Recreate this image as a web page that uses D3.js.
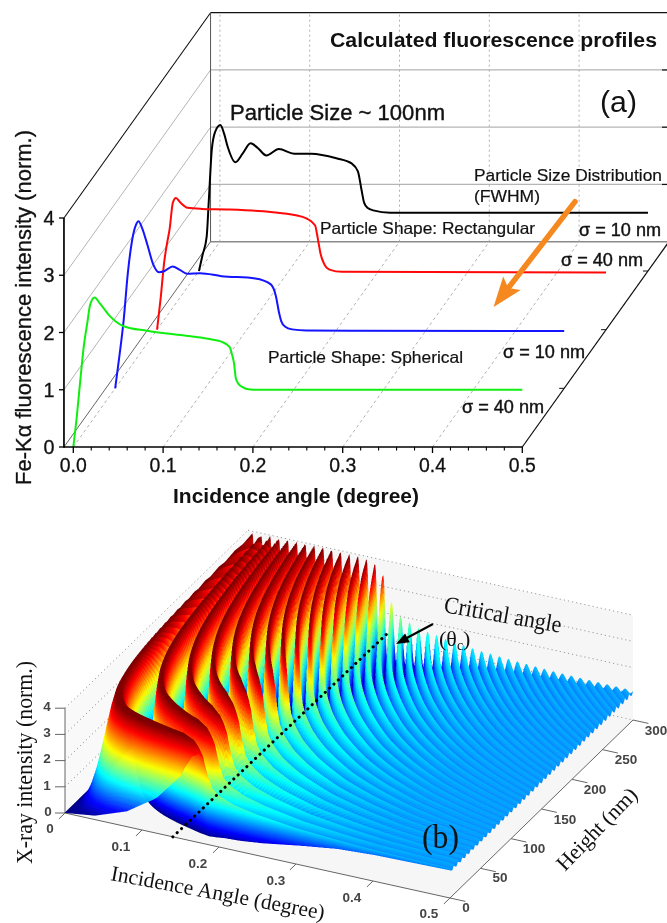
<!DOCTYPE html>
<html><head><meta charset="utf-8">
<script src="https://cdn.jsdelivr.net/npm/d3@7/dist/d3.min.js"></script>
<style>
html,body{margin:0;padding:0;background:#fff;width:667px;height:923px;overflow:hidden}
.layer{position:absolute;left:0;top:0;filter:blur(0.5px)}
canvas.layer{width:667px;height:923px}
text{font-family:"Liberation Sans",Arial,sans-serif;fill:#111}
.serif{font-family:"Liberation Serif","Times New Roman",serif}
</style></head><body>
<svg id="under" class="layer" width="667" height="923"></svg>
<canvas id="surface" class="layer" width="1334" height="1846"></canvas>
<svg id="over" class="layer" width="667" height="923"></svg>
<script>
// ---------- panel (a): profiles (angle in degree, intensity in norm. units)
const greenAngle=[0,.004,.008,.012,.0155,.0187,.0236,.03,.04,.056,.082,.122,.15,.165,.174,.177,.179,.181,.184,.188,.195,.207,.5];
const greenValue=[0,.55,1.2,1.8,2.16,2.48,2.61,2.5,2.3,2.11,2.03,1.95,1.89,1.84,1.75,1.6,1.46,1.2,1.1,1.05,1.01,1,1];
const blueAngle=[0,.005,.0095,.014,.019,.023,.026,.03,.036,.042,.0488,.055,.0639,.072,.08,.0947,.1185,.156,.173,.179,.1825,.185,.189,.197,.213,.5];
const blueValue=[0,.6,1.2,2,2.6,2.85,2.92,2.8,2.5,2.18,2.03,2.05,2.13,2.07,2,2.01,1.96,1.92,1.82,1.61,1.32,1.17,1.08,1.03,1.01,1];
const redAngle=[0,.004,.008,.011,.014,.0176,.021,.026,.034,.05,.077,.129,.162,.176,.178,.18,.182,.186,.192,.206,.5];
const redValue=[0,.55,1.19,1.5,1.76,2.22,2.3,2.22,2.13,2.11,2.1,2.05,1.97,1.82,1.68,1.5,1.33,1.15,1.05,1.01,1];
const blackAngle=[0,.004,.0086,.011,.0143,.018,.0238,.028,.032,.0406,.049,.0575,.0655,.075,.089,.106,.125,.153,.17,.177,.181,.184,.188,.194,.213,.5];
const blackValue=[0,.28,.6,1.24,2.12,2.43,2.55,2.4,2.17,1.9,2.06,2.23,2.15,2.02,2.13,2.05,2.05,1.97,1.88,1.74,1.42,1.19,1.1,1.06,1.02,1.02];
const profileColors=["#10ee10","#1414ff","#ff0808","#000000"];
const profileDepths=[0,1,2,3];
const xTicksA=[0,.1,.2,.3,.4,.5];
const xMinorA=[.02,.04,.06,.08,.12,.14,.16,.18,.22,.24,.26,.28,.32,.34,.36,.38,.42,.44,.46,.48];
const yTicksA=[0,1,2,3,4];
const arrowA=[[.5587,0,4.285],[.468,0,2.445]];

// ---------- panel (b): surface described by tables
// fin crest positions along the back edge (Height = 300 nm)
const finTips=[.0058,.0175,.0292,.0408,.0525,.0642,.0758,.0875,.0992,.1108,.1225,.1342,.1458,.1575,.1692,.1808,.1925,.2042,.2158,.2275,.2392,.2508,.2625,.2742,.2858,.2975,.3092,.3208,.3325,.3442,.3558,.3675,.3792,.3908,.4025,.4142,.4258,.4375,.4492,.4608,.4725,.4842,.4958,.5075];
// crest / valley intensity against angle
const envAngle=[0,.05,.1,.15,.165,.172,.178,.184,.19,.2,.22,.25,.3,.35,.4,.5];
const crestValue=[3.92,3.96,3.98,3.92,3.8,3.6,3.35,2.7,2.2,1.95,1.72,1.55,1.36,1.26,1.18,1.12];
const valleyValue=[0,0,0,0,.01,.03,.05,.08,.1,.15,.2,.32,.58,.8,.9,.98];
// sideways drift of the fins at low angle, in tip-angle units
const shiftAngle=[0,.04,.08,.12,.15,.17,.18,.5];
const shiftValue=[0,.0007,.0014,.0023,.0033,.0047,.00583,.00583];
// height across one fin, crest to crest
const finShape=[1,.96,.85,.69,.5,.31,.15,.04,0,.04,.15,.31,.5,.69,.85,.96,1];
const jetStops=[0,.125,.375,.625,.875,1];
const jetColors=["#00007f","#0000ff","#00ffff","#ffff00","#ff0000","#7f0000"];
const xTicksB=[0,.1,.2,.3,.4,.5];
const hTicksB=[0,50,100,150,200,250,300];
const zTicksB=[0,1,2,3,4];
const criticalLine=[[.14,0,0],[.18,300,1.2]];

const under=d3.select("#under"),over=d3.select("#over");
// ---- helpers
function put(svg,str,x,y,size,len,opt={}){
  const t=svg.append("text").attr("x",x).attr("y",y).attr("font-size",size).text(str);
  if(len)t.attr("textLength",len).attr("lengthAdjust","spacingAndGlyphs");
  if(opt.weight)t.attr("font-weight",opt.weight);
  if(opt.cls)t.attr("class",opt.cls);
  if(opt.anchor)t.attr("text-anchor",opt.anchor);
  if(opt.rot!==undefined)t.attr("transform",`rotate(${opt.rot} ${x} ${y})`);
  if(opt.fill)t.style("fill",opt.fill);
  if(opt.thick)t.style("stroke","#111").style("stroke-width",opt.thick);
  return t;
}
const seg=(svg,a,b,col,w,dash)=>{const l=svg.append("line").attr("x1",a[0]).attr("y1",a[1]).attr("x2",b[0]).attr("y2",b[1]).attr("stroke",col).attr("stroke-width",w);if(dash)l.attr("stroke-dasharray",dash);return l;};

// ---- panel (a)
const xA=d3.scaleLinear([0,.5],[73.3,522.3]);
const yA=d3.scaleLinear([0,4],[447,218]);
const dXA=d3.scaleLinear([0,3.5],[0,146.6]);
const dYA=d3.scaleLinear([0,3.5],[0,-205.3]);
const leftA=xA(-.0104),depthA=3.5;
const pA=(a,d,v)=>[xA(a)+dXA(d),yA(v)+dYA(d)];
const backL=dXA(depthA)+leftA;
// gray wall lines
yTicksA.forEach(v=>{ if(v>0&&v<4)seg(under,[leftA,yA(v)],[backL,yA(v)+dYA(depthA)],"#b5b5b5",1);});
yTicksA.forEach(v=>{ if(v<4)seg(under,[backL,yA(v)+dYA(depthA)],[667,yA(v)+dYA(depthA)],v==0?"#8a8a8a":"#b5b5b5",v==0?1.4:1.2);});
xTicksA.forEach(a=>{
  seg(under,pA(a,0,0),pA(a,depthA,0),"#a8a8a8",.9,"3 3");
  seg(under,pA(a,depthA,0),pA(a,depthA,4),"#a8a8a8",.9,"2 3");
});
seg(under,[leftA,yA(0)],[backL,yA(0)+dYA(depthA)],"#555",.9);
seg(under,[leftA,yA(4)],[backL,yA(4)+dYA(depthA)],"#111",1.1);
seg(under,[backL,yA(0)+dYA(depthA)],[backL,yA(4)+dYA(depthA)],"#555",1);
seg(under,[backL,yA(4)+dYA(depthA)],[667,yA(4)+dYA(depthA)],"#111",1.2);
seg(under,[xA(.5),yA(0)],[xA(.5)+dXA(depthA),yA(0)+dYA(depthA)],"#111",1.2);
[1,2,3].forEach(d=>seg(under,pA(.5,d,0),[xA(.5)+dXA(d)-5,yA(0)+dYA(d)],"#111",1));
[1,2,3].forEach(v=>seg(under,[662,yA(v)+dYA(depthA)],[667,yA(v)+dYA(depthA)],"#111",1.2));
// curves
const lineA=d3.line().curve(d3.curveMonotoneX);
[[blackAngle,blackValue],[redAngle,redValue],[blueAngle,blueValue],[greenAngle,greenValue]].forEach(([xs,ys],k)=>{
  const idx=3-k,d=profileDepths[idx];
  under.append("path").attr("fill","none").attr("stroke",profileColors[idx]).attr("stroke-width",2)
    .attr("stroke-linejoin","round").attr("d",lineA(xs.map((a,i)=>pA(a,d,ys[i]))));
});
// front axes
seg(under,[leftA,yA(0)],[xA(.5),yA(0)],"#000",1.7);
seg(under,[leftA,yA(0)+.8],[leftA,yA(4)],"#000",1.7);
xTicksA.forEach(a=>seg(under,[xA(a),yA(0)],[xA(a),yA(0)+6],"#000",1.3));
xMinorA.forEach(a=>seg(under,[xA(a),yA(0)],[xA(a),yA(0)+3.5],"#000",1.1));
yTicksA.forEach(v=>seg(under,[leftA-5,yA(v)],[leftA,yA(v)],"#000",1.3));
xTicksA.forEach(a=>put(under,a.toFixed(1),xA(a),471.5,20,27,{anchor:"middle",thick:.3}));
yTicksA.forEach(v=>put(under,String(v),54.5,yA(v)+7,20,11,{anchor:"end",thick:.3}));
put(under,"Incidence angle (degree)",173,503,21,246,{weight:"bold"});
put(under,"Fe-Kα fluorescence intensity (norm.)",31,485,22,355,{rot:-90,thick:.3});
// arrow
const arrowLine=arrowA.map(p=>pA(...p));
const ang=Math.atan2(arrowLine[1][1]-arrowLine[0][1],arrowLine[1][0]-arrowLine[0][0])*180/Math.PI;
seg(under,arrowLine[0],[arrowLine[0][0]+(arrowLine[1][0]-arrowLine[0][0])*.83,arrowLine[0][1]+(arrowLine[1][1]-arrowLine[0][1])*.83],"#f5881f",5.5).attr("stroke-linecap","round");
under.append("path").attr("fill","#f5881f").attr("d","M0 0L-30 -11L-24 0L-30 11Z")
  .attr("transform",`translate(${arrowLine[1][0]},${arrowLine[1][1]}) rotate(${ang})`);
// labels
put(under,"Calculated fluorescence profiles",330,47,20,327,{weight:"bold"});
put(under,"(a)",600,112,30,37);
put(under,"Particle Size ~ 100nm",230,120,22,215,{thick:.4});
put(under,"Particle Size Distribution",474,181,17,188,{thick:.2});
put(under,"(FWHM)",474,202,17,66,{thick:.2});
put(under,"Particle Shape: Rectangular",320,234,16.5,215,{thick:.2});
put(under,"Particle Shape: Spherical",268,363,16.5,195,{thick:.2});
[["σ = 10 nm",579,236],["σ = 40 nm",561,266],["σ = 10 nm",503,358],["σ = 40 nm",462,413]].forEach(d=>put(under,d[0],d[1],d[2],17.5,82,{thick:.4}));

// ---- panel (b)
const xT=d3.scaleLinear([0,.5],[65,450]), yT=d3.scaleLinear([0,.5],[813,898]);
const xH=d3.scaleLinear([0,300],[0,183]), yH=d3.scaleLinear([0,300],[0,-178]);
const yI=d3.scaleLinear([0,4],[0,-104.8]);
const pB=(t,h,i)=>[xT(t)+xH(h),yT(t)+yH(h)+yI(i)];
// walls
under.append("path").attr("fill","#f6f6f6").attr("d",d3.line()([pB(0,300,0),pB(.5,300,0),pB(.5,0,0),pB(0,0,0)]));
under.append("path").attr("fill","#f6f6f6").attr("d",d3.line()([pB(0,300,0),pB(.5,300,0),pB(.5,300,4),pB(0,300,4)]));
under.append("path").attr("fill","#f9f9f9").attr("d",d3.line()([pB(0,0,0),pB(0,300,0),pB(0,300,4),pB(0,0,4)]));
zTicksB.forEach(z=>{
  if(z>0)seg(under,pB(0,0,z),pB(0,300,z),"#999",1,"1.2 3");
  seg(under,pB(0,300,z),pB(.5,300,z),"#999",1,"1.2 3");
});
// axes
const axisB="#666";
seg(under,pB(0,0,0),pB(.5,0,0),axisB,1);
seg(under,pB(.5,0,0),pB(.5,300,0),axisB,1);
seg(under,pB(0,0,0),pB(0,0,4),axisB,1);
xTicksB.forEach(t=>seg(under,pB(t,0,0),pB(t,-10,0),axisB,1));
hTicksB.forEach(h=>seg(under,pB(.5,h,0),pB(.52,h,0),axisB,1));
zTicksB.forEach(z=>seg(under,pB(0,0,z),[pB(0,0,z)[0]-10,pB(0,0,z)[1]],axisB,1));
// surface
const ctx=document.getElementById("surface").getContext("2d");
ctx.scale(2,2);
const tipIndex=d3.scaleLinear(finTips,d3.range(finTips.length));
const shiftAt=d3.scaleLinear(shiftAngle,shiftValue);
const crestAt=d3.scaleLinear(envAngle,crestValue);
const valleyAt=d3.scaleLinear(envAngle,valleyValue);
const shapeAt=d3.scaleLinear(d3.range(finShape.length).map(i=>i/(finShape.length-1)),finShape);
const jet=d3.scaleLinear(jetStops.map(s=>s*3.85),jetColors).clamp(true);
const lut=d3.range(256).map(i=>jet(i/255*3.85));
const thetas=d3.range(0,.5003,.0007);
const heights=d3.range(300,30,-.8).concat(d3.range(30,-.01,-.25));
const cS=thetas.map(shiftAt),cC=thetas.map(crestAt),cV=thetas.map(valleyAt);
let prev=null;
const rowAt=h=>{const r=new Float32Array(thetas.length);for(let j=0;j<thetas.length;j++){
  const n=tipIndex(h*thetas[j]/300+cS[j]);
  r[j]=cV[j]+(cC[j]-cV[j])*shapeAt(n-Math.floor(n));}return r;};
const quad=d3.line().context(ctx);
ctx.lineWidth=.3;ctx.lineJoin="round";
prev=rowAt(heights[0]);
for(let i=1;i<heights.length;i++){
  const h=heights[i-1],h2=heights[i],next=rowAt(h2);
  for(let j=0;j<thetas.length-1;j++){
    const a=prev[j],b=prev[j+1],c=next[j+1],d=next[j];
    const col=lut[Math.max(0,Math.min(255,Math.round((a+b+c+d)/4/3.85*255)))];
    ctx.beginPath();
    quad([pB(thetas[j],h,a),pB(thetas[j+1],h,b),pB(thetas[j+1],h2,c),pB(thetas[j],h2,d)]);
    ctx.closePath();
    ctx.fillStyle=col;ctx.strokeStyle=col;ctx.fill();ctx.stroke();
  }
  prev=next;
}
// overlay
const crit=criticalLine.map(p=>pB(...p));
seg(over,crit[0],crit[1],"#000",3,"0.1 5.9").attr("stroke-linecap","round");
seg(over,[433,624],[403,640],"#000",2);
over.append("path").attr("fill","#000").attr("d","M0 0L-13 -5L-13 5Z")
  .attr("transform",`translate(396,644) rotate(${Math.atan2(20,-37)*180/Math.PI})`);
const tickStyle={weight:"bold",fill:"#444",anchor:"middle"};
[[47,711,"4"],[47,737,"3"],[47,763,"2"],[47,790,"1"],[48,816,"0"],[50,833,"0"],
 [121,851,"0.1"],[198,868,"0.2"],[276,885,"0.3"],[352,902,"0.4"],[429,918,"0.5"],
 [466,912,"0"],[500,882,"50"],[534,853,"100"],[565,824,"150"],[595,794,"200"],[626,764,"250"],[656,735,"300"]]
 .forEach(d=>put(over,d[2],d[0],d[1],13.5,null,tickStyle));
put(over,"X-ray intensity (norm.)",32,864,22.5,203,{cls:"serif",rot:-90});
put(over,"Incidence Angle (degree)",110,880,21.5,217,{cls:"serif",rot:10.5});
put(over,"Height (nm)",565,872,21.5,106,{cls:"serif",rot:-46});
put(over,"(b)",422,848,34,37,{cls:"serif"});
put(over,"Critical angle",443,612,24,119,{cls:"serif",rot:10});
const thc=put(over,"(θ",439,646,22,null,{cls:"serif"});
thc.append("tspan").attr("font-size",14).attr("dy",4).text("c");
thc.append("tspan").attr("dy",-4).text(")");
</script></body></html>
